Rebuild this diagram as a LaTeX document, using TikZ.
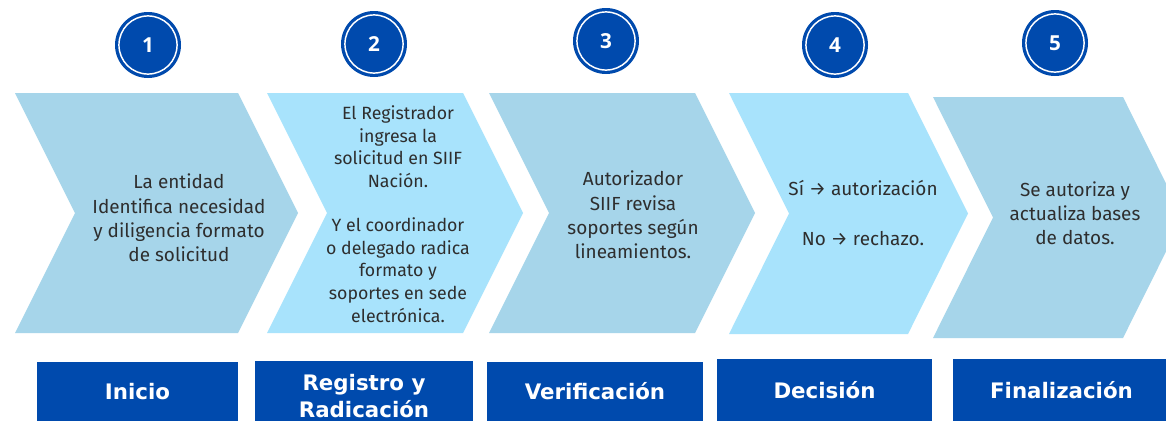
\documentclass[tikz,border=0pt]{standalone}
\usepackage{fontspec}
\setmainfont{Fira Sans}
\newfontfamily\labfont{DejaVu Sans}
\newfontfamily\numfont{Open Sans}
\definecolor{navy}{HTML}{004AAD}
\definecolor{chevA}{HTML}{A6D5EA}
\definecolor{chevB}{HTML}{A8E3FC}
\definecolor{txt}{HTML}{2E2E2E}
\newcommand\chevshape[5]{%
  \fill[#5] (#1,#3) -- (#2,#3) -- (#2+60,{(#3+#4)/2}) -- (#2,#4) -- (#1,#4) -- (#1+60,{(#3+#4)/2}) -- cycle;}
\tikzset{
  stepnum/.style={circle, fill=navy, minimum size=49.5pt, inner sep=0pt, text=white,
    font=\numfont\bfseries\fontsize{15.5}{18}\selectfont},
  ring/.style={draw=white, line width=1.1pt},
  chevtext/.style={align=center, text=txt, inner sep=0pt,
    font=\fontsize{14.2}{18.2}\selectfont},
  lab/.style={fill=navy, text=white, inner sep=0pt, align=center,
    font=\labfont\bfseries\fontsize{16}{20.5}\selectfont}
}
\begin{document}
\begin{tikzpicture}[x=0.75pt,y=-0.75pt]
\clip (0,0) rectangle (1166,421);
\fill[white] (0,0) rectangle (1166,421);
% chevrons
\chevshape{15}{238}{93}{333}{chevA}
\chevshape{267}{463}{93}{333}{chevB}
\chevshape{489}{695}{93}{333}{chevA}
\chevshape{729}{908}{93}{334}{chevB}
\chevshape{933}{1123}{97}{338}{chevA}
% chevron texts
\node[chevtext] (t1) at (179,218) {La entidad\\Identifica necesidad\\y diligencia formato\\de solicitud};
\node[chevtext, font=\fontsize{13.3}{17}\selectfont] (t2) at (398,214) {El Registrador\\ingresa la\\solicitud en SIIF\\Nación.\\[16pt]Y el coordinador\\o delegado radica\\formato y\\soportes en sede\\electrónica.};
\node[chevtext] (t3) at (633,215) {Autorizador\\SIIF revisa\\soportes según\\lineamientos.};
\node[chevtext] (t4) at (863,213) {Sí → autorización\\[20pt]No → rechazo.};
\node[chevtext] (t5) at (1075,213) {Se autoriza y\\actualiza bases\\de datos.};
% circles
\foreach \n/\x/\y in {1/148/45, 2/374/44, 3/606/41, 4/835/45, 5/1055/43}{
  \node[stepnum] (c\n) at (\x,\y) {\n};
  \draw[ring] (c\n.center) circle[radius=21.8pt];
}
% bottom labels
\node[lab, minimum width=150.75pt, minimum height=44.25pt] (l1) at (137.5,391.5) {Inicio};
\node[lab, minimum width=163.5pt, minimum height=45pt] (l2) at (364,391) {};
\node[lab, fill=none] (l2t) at (364,396) {Registro y\\Radicación};
\node[lab, minimum width=162pt, minimum height=44.25pt] (l3) at (595,391.5) {Verificación};
\node[lab, minimum width=161.25pt, minimum height=46.5pt] (l4) at (824.5,390) {Decisión};
\node[lab, minimum width=162.75pt, minimum height=46.5pt] (l5) at (1061.5,390) {Finalización};
\end{tikzpicture}
\end{document}
